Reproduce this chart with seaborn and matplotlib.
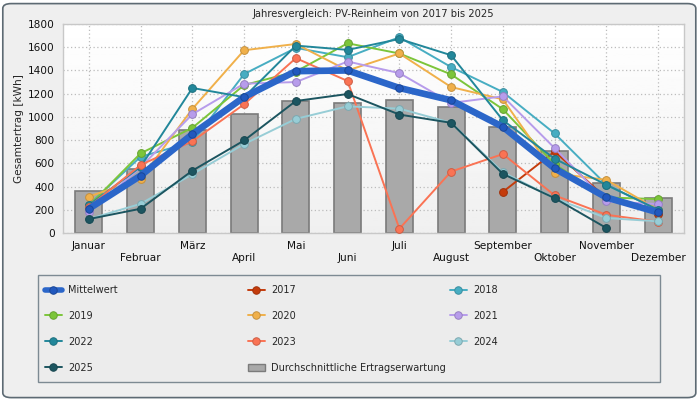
import numpy as np
import pandas as pd
import matplotlib
matplotlib.use("Agg")
import matplotlib.pyplot as plt
import matplotlib.colors as mcolors
import seaborn as sns
from matplotlib.lines import Line2D
from matplotlib.patches import Patch, FancyBboxPatch, Rectangle

nan = np.nan

# Monate und Werte (kWh)
months = ["Januar", "Februar", "März", "April", "Mai", "Juni", "Juli",
          "August", "September", "Oktober", "November", "Dezember"]
erwartung = [366, 551, 886, 1026, 1140, 1123, 1149, 1089, 909, 708, 430, 301]
mittelwert = [209, 494, 851, 1171, 1394, 1400, 1249, 1143, 914, 556, 306, 177]
y2017 = [nan, nan, nan, nan, nan, nan, nan, nan, 354, 702, 300, 163]
y2018 = [243, 657, 783, 1369, 1594, 1514, 1686, 1429, 1214, 857, 415, 200]
y2019 = [235, 686, 906, 1274, 1390, 1634, 1546, 1366, 1066, 593, 306, 292]
y2020 = [314, 466, 1069, 1574, 1628, 1400, 1546, 1257, 1151, 513, 458, 200]
y2021 = [180, 566, 1023, 1286, 1300, 1477, 1377, 1120, 1177, 731, 272, 249]
y2022 = [240, 570, 1249, 1170, 1614, 1577, 1671, 1531, 971, 640, 415, 200]
y2023 = [225, 586, 790, 1109, 1506, 1309, 37, 529, 680, 324, 157, 97]
y2024 = [120, 251, 506, 766, 983, 1091, 1071, 949, 523, 298, 129, 100]
y2025 = [120, 209, 537, 797, 1137, 1197, 1020, 949, 509, 300, 43, nan]

years = {"2017": y2017, "2018": y2018, "2019": y2019, "2020": y2020,
         "2021": y2021, "2022": y2022, "2023": y2023, "2024": y2024,
         "2025": y2025}
colors = {"2017": "#c43c0c", "2018": "#47adc2", "2019": "#7cc53a",
          "2020": "#f0b04a", "2021": "#b79ceb", "2022": "#22879a",
          "2023": "#fa7354", "2024": "#97cdd6", "2025": "#1c5560"}
blue = "#2b66c9"
bar_color = "#a9a9a9"
bar_edge = "#7b7b7b"


def darker(c, f=0.82):
    r, g, b = mcolors.to_rgb(c)
    return (r * f, g * f, b * f)


sns.set_style("white")
plt.rcParams["font.family"] = ["DejaVu Sans"]
plt.rcParams["font.size"] = 8

W, H = 700, 400
fig = plt.figure(figsize=(7, 4), dpi=100)
fig.patch.set_facecolor("white")
# Rahmen mit runden Ecken
frame = FancyBboxPatch((0.004, 0.006), 0.99, 0.985,
                       boxstyle="round,pad=0,rounding_size=0.012",
                       transform=fig.transFigure, facecolor="#efefef",
                       edgecolor="#5d6a73", linewidth=1.2, zorder=-10)
fig.patches.append(frame)

ax = fig.add_axes([63 / W, 1 - 233 / H, 621 / W, 209 / H])
ax.set_facecolor("#f9f9f9")
grad = np.linspace(1.0, 0.94, 100).reshape(-1, 1)
ax.imshow(grad, extent=[0, 1, 0, 1], transform=ax.transAxes, aspect="auto",
          cmap="gray", vmin=0, vmax=1, zorder=0)

x = np.arange(len(months))

sns.barplot(x=x, y=erwartung, color=bar_color, saturation=1, width=0.52,
            edgecolor=bar_edge, linewidth=1.2, ax=ax, zorder=2,
            native_scale=True)

for name, vals in years.items():
    df = pd.DataFrame({"x": x, "y": vals}).dropna()
    sns.lineplot(data=df, x="x", y="y", color=colors[name], linewidth=1.4,
                 marker="o", markersize=5.6, markeredgewidth=0.7,
                 markeredgecolor=darker(colors[name]), ax=ax, zorder=3)

sns.lineplot(x=x, y=mittelwert, color=blue, linewidth=4.8, marker="o",
             markersize=5.4, markerfacecolor="#2158be",
             markeredgecolor="#1a4796", markeredgewidth=0.7, ax=ax, zorder=4)

ax.set_xlim(-0.5, 11.5)
ax.set_ylim(0, 1800)
ax.set_yticks(range(0, 1801, 200))
ax.set_xticks(x)
ax.set_xticklabels([m if i % 2 == 0 else "\n" + m for i, m in enumerate(months)])
ax.tick_params(length=0, pad=6, labelsize=7.6, colors="#111111")
ax.grid(True, color="#bcbcbc", linestyle=(0, (1, 2)), linewidth=0.9)
ax.set_axisbelow(True)
for s in ax.spines.values():
    s.set_color("#c8c8c8")
    s.set_linewidth(1)
ax.set_xlabel("")
ax.set_ylabel("Gesamtertrag [kWh]", fontsize=7.6, labelpad=3)
ax.set_title("Jahresvergleich: PV-Reinheim von 2017 bis 2025", fontsize=7.2, pad=5)

# Legende: Kasten und drei Spalten mit fester Breite
fig.patches.append(Rectangle((38 / W, 1 - 382 / H), 622 / W, 107 / H,
                             transform=fig.transFigure, facecolor="#ececec",
                             edgecolor="#7d8a93", linewidth=1, zorder=-5))


def line_handle(c, lw=1.4, mfc=None, mec=None):
    return Line2D([], [], color=c, lw=lw, marker="o", markersize=5.4,
                  markerfacecolor=mfc or c, markeredgewidth=0.7,
                  markeredgecolor=mec or darker(c))


h = {"Mittelwert": line_handle(blue, lw=4, mfc="#2158be", mec="#1a4796")}
for name in years:
    h[name] = line_handle(colors[name])
h["Durchschnittliche Ertragserwartung"] = Patch(facecolor=bar_color, edgecolor=bar_edge)
columns = [["Mittelwert", "2019", "2022", "2025"],
           ["2017", "2020", "2023", "Durchschnittliche Ertragserwartung"],
           ["2018", "2021", "2024"]]
for cx, col in zip([45, 248, 450], columns):
    fig.legend([h[k] for k in col], col, loc="upper left",
               bbox_to_anchor=(cx / W, 1 - 285 / H), borderaxespad=0,
               borderpad=0, frameon=False, fontsize=7.0, labelspacing=1.63,
               handlelength=1.7, handletextpad=0.7)

fig.savefig("out.png", dpi=100)
